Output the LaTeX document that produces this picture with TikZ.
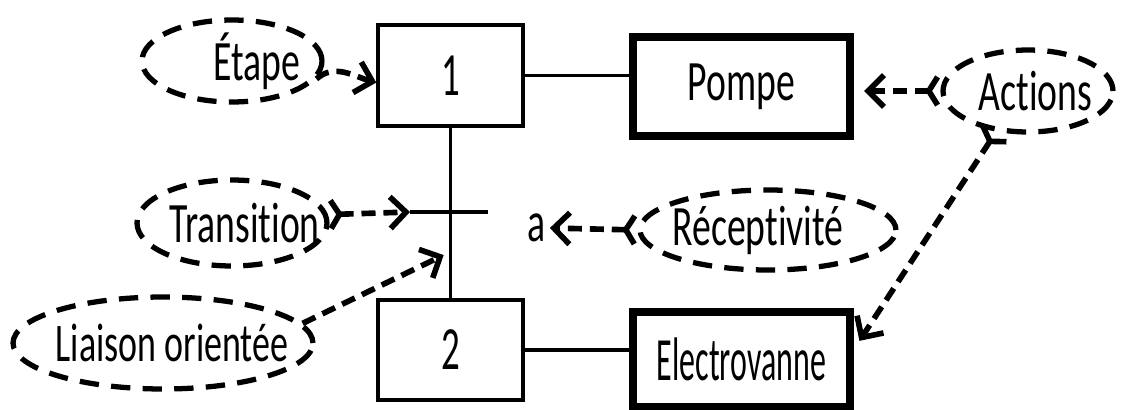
\documentclass[tikz,border=0pt]{standalone}
\usepackage{fontspec}
\setmainfont{Carlito}
\newfontfamily\lblfont[FakeStretch=0.66,Ligatures=NoCommon]{Carlito}
\newfontfamily\vannefont[FakeStretch=0.52,Ligatures=NoCommon]{Carlito}
\newfontfamily\digitfont[FakeStretch=0.6]{Carlito}
\usetikzlibrary{arrows.meta, positioning, shapes.geometric}

\begin{document}
\begin{tikzpicture}[x=0.02cm,y=-0.02cm,font=\lblfont\fontsize{32.5}{35}\selectfont]
\tikzset{
  stepbox/.style={draw,line width=2pt,minimum width=2.9cm,minimum height=2.02cm,inner sep=0pt,
    font=\digitfont\fontsize{35}{38}\selectfont},
  actbox/.style={draw,line width=4.2pt,minimum width=4.34cm,inner sep=0pt},
  bubble/.style 2 args={ellipse,draw,line width=3pt,dash pattern=on 11pt off 7pt,
    minimum width=#1,minimum height=#2,inner sep=0pt},
  wire/.style={line width=1.8pt},
  link/.style={line width=3.2pt,dash pattern=on 8pt off 4.5pt,-{Straight Barb[length=9pt,width=18pt]}},
  fork/.style={{Straight Barb[reversed,length=5pt,width=16pt]}-{Straight Barb[length=9pt,width=18pt]}}
}
\useasboundingbox (0,0) rectangle (1122,409);

% steps and their actions
\node[stepbox] (step1) at (450.5,75.5) {1};
\node[stepbox,minimum height=2cm] (step2) at (450.5,350) {2};
\node[actbox,minimum height=1.98cm] (pompe) at (741.5,86.5) {Pompe};
\node[actbox,minimum height=1.9cm,font=\vannefont\fontsize{35}{38}\selectfont] (vanne) at (741.5,359.5) {Electrovanne};

% transition and its receptivity
\coordinate (tl) at (410,212);
\coordinate (tr) at (488,212);
\coordinate (lk) at (450,252);
\node[inner sep=2pt] (recv) at (537,228) {a};

\draw[wire] (step1) -- (step2);
\draw[wire] (tl) -- (tr);
\draw[wire] (step1.east) -- (step1.east -| pompe.west);
\draw[wire] (step2.east) -- (step2.east -| vanne.west);

% dashed bubbles
\node[bubble={3.6cm}{1.64cm}] (etape) at (232,61) {\makebox[0pt]{\hspace{1cm}Étape}};
\node[bubble={3.4cm}{1.64cm}] (actions) at (1028,91) {\makebox[0pt]{\hspace{0.3cm}Actions}};
\node[bubble={3.8cm}{1.72cm}] (transition) at (232,223) {\makebox[0pt]{\hspace{0.5cm}Transition}};
\node[bubble={5.12cm}{1.6cm}] (recept) at (768,230) {\makebox[0pt]{Réceptivité\hspace{0.4cm}}};
\node[bubble={6cm}{1.84cm}] (liaison) at (163,343) {\makebox[0pt]{\hspace{0.36cm}\fontsize{31}{34}\selectfont Liaison orientée}};

% pointers
\draw[link] (etape.-12) .. controls +(18,-16) and +(-22,-6) .. ([yshift=-4pt]step1.west);
\draw[link,fork,shorten >=6pt] (actions.west) -- (actions.west -| pompe.east);
\draw[link,fork,shorten >=6pt] (actions.232) -- (vanne.5);
\draw[link,fork] (transition.5) -- (tl);
\draw[link,fork] (recept.west) -- (recv.east);
\draw[link,shorten >=4pt] (liaison.8) -- (lk);
\end{tikzpicture}
\end{document}
